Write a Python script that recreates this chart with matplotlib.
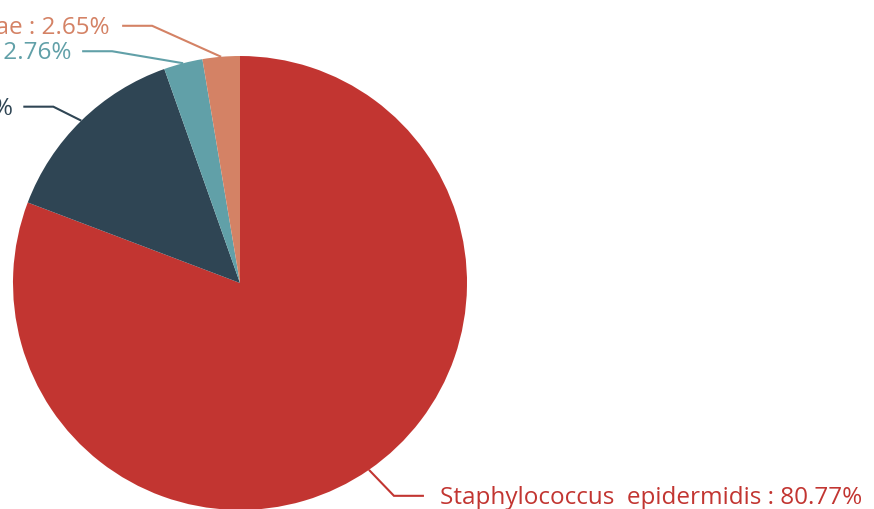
import numpy as np
import matplotlib
matplotlib.use("Agg")
import matplotlib.pyplot as plt

# ---- data ----
names = ["Staphylococcus  epidermidis", "Staphylococcus  hominis",
         "Staphylococcus  capitis", "Enterobacteriaceae"]
values = [80.77, 13.82, 2.76, 2.65]
colors = ["#c23531", "#2f4554", "#61a0a8", "#d48265"]

# ---- layout (pixels) ----
W, H = 874, 510
cx, cy, R = 240, 284, 227
# elbow offset from wedge edge, horizontal segment length, text gap
elbow_off = [(25, 26), (-28, -14), (-71, -12), (-69, -31)]
hlen = 30
gap = [16, 10, 11, 12]

plt.rcParams['font.family'] = ['Open Sans', 'DejaVu Sans']

fig = plt.figure(figsize=(W / 100, H / 100), dpi=100)
ax = fig.add_axes([0, 0, 1, 1])

wedges, _ = ax.pie(values, colors=colors, startangle=90, counterclock=False,
                   center=(cx, H - cy), radius=R,
                   wedgeprops=dict(linewidth=0, antialiased=True))
ax.set_xlim(0, W)
ax.set_ylim(0, H)
ax.set_aspect('equal')
ax.axis('off')

total = sum(values)
start = 0.0
for i, (n, v, c) in enumerate(zip(names, values, colors)):
    mid = start + v / total * 360 / 2
    start += v / total * 360
    th = np.deg2rad(mid)
    ex = cx + R * np.sin(th)
    ey = cy - R * np.cos(th)
    bx = ex + elbow_off[i][0]
    by = ey + elbow_off[i][1]
    side = 1 if bx > cx else -1
    hx = bx + side * hlen
    ax.plot([ex, bx, hx], [H - ey, H - by, H - by], color=c, lw=1.5,
            solid_capstyle='butt', solid_joinstyle='miter')
    ax.text(hx + side * gap[i], H - by - 1, f"{n} : {v:.2f}%", color=c,
            fontsize=17.5, ha='left' if side > 0 else 'right', va='center')

fig.savefig("out.png", dpi=100)
